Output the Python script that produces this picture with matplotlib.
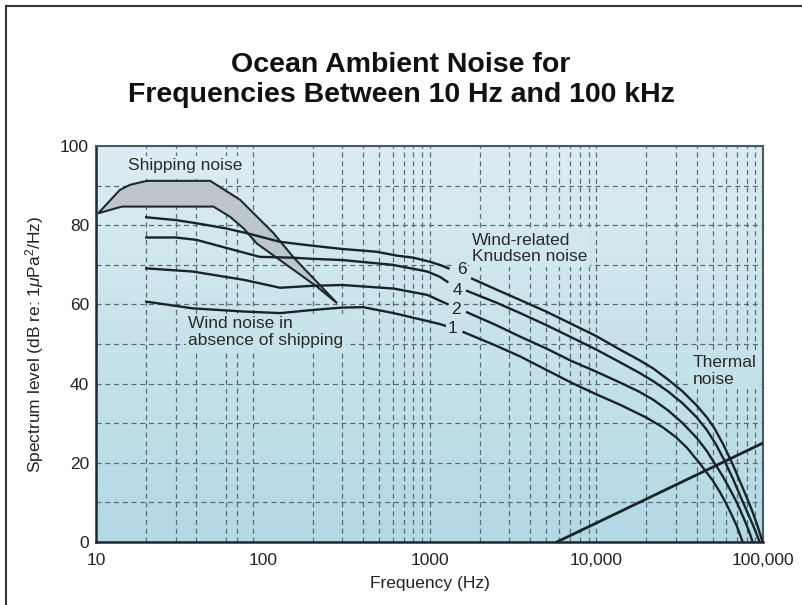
import numpy as np
import matplotlib
matplotlib.use("Agg")
import matplotlib.pyplot as plt
from matplotlib.lines import Line2D
from matplotlib.colors import LinearSegmentedColormap

plt.rcParams['font.family'] = ['Liberation Sans', 'DejaVu Sans']
plt.rcParams['mathtext.fontset'] = 'custom'
plt.rcParams['mathtext.rm'] = 'Liberation Sans'
plt.rcParams['mathtext.it'] = 'Liberation Sans:italic'

# ---------------- data ----------------
nan = np.nan
c6_f = [20, 30, 40, 60, 80, 127, 200, 300, 480, 640, 800, 1000, 1150, 1300, nan,
        1800, 2500, 3500, 5000, 7000, 10000, 14000, 18000, 22000, 27000, 33000,
        40000, 46000, 51000, 58000, 66000, 75000, 85000, 92000, 99500]
c6_db = [82, 81.3, 80.5, 79.2, 78, 75.8, 74.8, 74, 73.3, 72.3, 71.8, 70.8, 70, 69.1, nan,
         66.5, 63.8, 61.1, 58.2, 55.2, 52, 48.5, 46, 43.8, 41, 38,
         34.5, 31.5, 28.8, 24.5, 19.5, 14, 8.5, 4.5, 0]

c4_f = [20, 30, 40, 60, 96, 150, 200, 300, 600, 970, 1150, 1280, nan,
        1680, 2500, 3500, 5000, 7000, 10000, 14000, 18000, 22000, 27000, 33000,
        40000, 46000, 52000, 58000, 66000, 75000, 82000, 89000, 95400]
c4_db = [76.9, 76.9, 76.3, 74.3, 72.0, 71.8, 71.5, 71.2, 70.0, 68.3, 67.0, 65.7, nan,
         63.4, 60.5, 57.8, 54.8, 51.8, 48.6, 45.3, 42.8, 40.6, 38, 35,
         31.5, 28.3, 24.8, 21, 16, 10.5, 6.8, 3.3, 0]

c2_f = [20, 38, 77, 127, 200, 300, 610, 970, 1160, 1280, nan,
        1680, 2500, 3520, 5000, 7030, 10000, 14000, 18000, 22000, 27000, 33000,
        40000, 46000, 51000, 57000, 63000, 70000, 77000, 82000, 86700]
c2_db = [69.1, 68.3, 66.2, 64.2, 64.7, 64.9, 64.0, 62.4, 60.9, 60.1, nan,
         58.0, 54.8, 51.8, 48.9, 45.8, 43, 40.2, 38, 35.9, 33.2, 30,
         26.3, 23, 20, 16.8, 13.5, 9.8, 5.8, 3.0, 0]

c1_f = [20, 38, 77, 127, 200, 300, 400, 610, 970, 1160, 1340, nan,
        1600, 2500, 3520, 5000, 7030, 10000, 14000, 20000, 25000, 30000, 35000,
        42400, 50000, 55000, 60000, 65000, 70000, 75500]
c1_db = [60.7, 59.0, 58.2, 57.8, 58.6, 59.2, 59.3, 57.8, 55.8, 55.0, 54.2, nan,
         53.0, 49.6, 46.8, 43.5, 40.3, 37.3, 34.6, 31.4, 29, 26.5, 23.8,
         19.5, 15.5, 12.7, 9.8, 6.8, 3.8, 0]

thermal_f = [5800, 100000]
thermal_db = [0, 25]

ship_f = [10.3, 13.9, 16, 20.2, 48.4, 73.2, 116, 152, 279,
          211, 92, 76.7, 63.8, 50.6, 14.3]
ship_db = [83, 88.9, 90.2, 91.2, 91.2, 86.4, 78, 72, 60.3,
           64.5, 75.4, 79.2, 82.1, 84.7, 84.7]

curve_labels = ['6', '4', '2', '1']
label_f = [1556, 1472, 1432, 1375]
label_db = [68.7, 63.6, 58.6, 54.0]

grid_f = [20, 30, 40, 60, 70, 88,
          200, 300, 400, 500, 600, 700, 800, 900, 1000,
          2000, 3000, 4000, 5000, 6000, 7000, 8000, 9000, 10000,
          20000, 30000, 40000, 50000, 60000, 70000, 80000, 90000]
grid_db = [10, 20, 30, 40, 50, 60, 70, 80, 90]

xticks = [10, 100, 1000, 10000, 100000]
xticklabels = ['10', '100', '1000', '10,000', '100,000']
yticks = [0, 20, 40, 60, 80, 100]

# ---------------- figure ----------------
W, H = 802, 605
fig = plt.figure(figsize=(W / 100, H / 100), dpi=100)
fig.patch.set_facecolor('white')

# outer frame (left & top)
fig.add_artist(Line2D([6 / W, 6 / W], [0, 1 - 6 / H], transform=fig.transFigure,
                      color='#333333', lw=1.5))
fig.add_artist(Line2D([6 / W, 1], [1 - 6 / H, 1 - 6 / H], transform=fig.transFigure,
                      color='#333333', lw=1.5))

fig.text(0.5, 1 - 80 / H, 'Ocean Ambient Noise for\nFrequencies Between 10 Hz and 100 kHz',
         ha='center', va='center', fontsize=20.5, fontweight='bold', color='#111111',
         linespacing=1.2)

left, right, top, bottom = 96, 763, 146, 542
ax = fig.add_axes([left / W, 1 - bottom / H, (right - left) / W, (bottom - top) / H])
ax.set_xscale('log')
ax.set_xlim(10, 100000)
ax.set_ylim(0, 100)

# gradient background
grad = np.linspace(0, 1, 256).reshape(-1, 1)
cmap = LinearSegmentedColormap.from_list('bg', ['#b3d9e4', '#dcecf2'])
ax.imshow(grad, extent=[0, 1, 0, 1], transform=ax.transAxes, cmap=cmap,
          origin='lower', aspect='auto', zorder=0)

gkw = dict(color='#5b6b74', lw=0.9, linestyle=(0, (4, 3)), zorder=1)
for f in grid_f:
    ax.axvline(f, **gkw)
for d in grid_db:
    ax.axhline(d, **gkw)

# shipping noise band
ax.fill(ship_f, ship_db, facecolor='#bcc6cb', edgecolor='#1e2a30', lw=1.5, zorder=3)

lkw = dict(color='#18242a', lw=1.7, zorder=4)
for fs, ds in [(c6_f, c6_db), (c4_f, c4_db), (c2_f, c2_db), (c1_f, c1_db)]:
    ax.plot(fs, ds, **lkw)
ax.plot(thermal_f, thermal_db, color='#18242a', lw=2.0, zorder=4)


def knock(level):
    return dict(boxstyle='square,pad=0.12', facecolor=cmap(level / 100.0), edgecolor='none')


for t, f, d in zip(curve_labels, label_f, label_db):
    ax.text(f, d, t, fontsize=12.5, ha='center', va='center', color='#222222', zorder=5,
            bbox=knock(d))

tkw = dict(fontsize=12.5, color='#2a2a2a', zorder=2)
ax.text(15.6, 95, 'Shipping noise', ha='left', va='center', bbox=knock(95), **tkw)
ax.text(35.8, 53, 'Wind noise in\nabsence of shipping', ha='left', va='center',
        linespacing=1.15, bbox=knock(53), **tkw)
ax.text(1800, 74.1, 'Wind-related\nKnudsen noise', ha='left', va='center',
        linespacing=1.15, bbox=knock(74), **tkw)
ax.text(37800, 43.2, 'Thermal\nnoise', ha='left', va='center',
        linespacing=1.15, bbox=knock(43), **tkw)

ax.set_xticks(xticks)
ax.set_xticklabels(xticklabels)
ax.set_yticks(yticks)
ax.xaxis.set_minor_locator(matplotlib.ticker.NullLocator())
ax.tick_params(axis='both', length=0, labelsize=12.5, colors='#222222')
ax.tick_params(axis='x', pad=8)
ax.tick_params(axis='y', pad=5)

for s in ['left', 'bottom']:
    ax.spines[s].set_color('#1e2a30')
    ax.spines[s].set_linewidth(1.8)
for s in ['top', 'right']:
    ax.spines[s].set_color('#4a5a62')
    ax.spines[s].set_linewidth(1.5)

ax.set_xlabel('Frequency (Hz)', fontsize=12.5, color='#222222', labelpad=6)
ax.set_ylabel(r'Spectrum level (dB re: 1$\mathit{\mu}$Pa$^2$/Hz)', fontsize=12.5,
              color='#222222', labelpad=10)

fig.savefig('out.png', dpi=100)
